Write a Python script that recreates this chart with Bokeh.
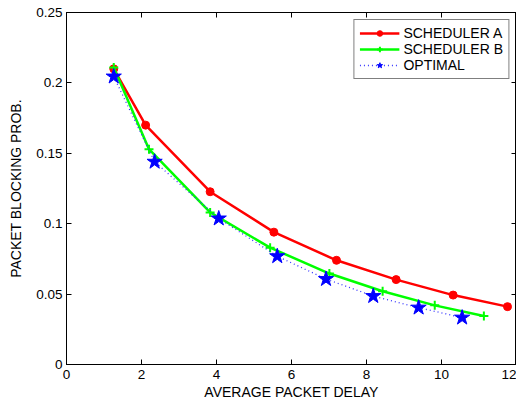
from bokeh.plotting import figure
from bokeh.models import Range1d, FixedTicker, LinearAxis, Legend, LegendItem, CustomJSTickFormatter
from bokeh.embed import file_html
from bokeh.resources import INLINE

# Data
sched_a_x = [1.26, 2.11, 3.83, 5.53, 7.20, 8.79, 10.31, 11.76]
sched_a_y = [0.210, 0.170, 0.1227, 0.094, 0.074, 0.0603, 0.0493, 0.0411]

sched_b_x = [1.26, 2.20, 3.83, 5.43, 7.01, 8.43, 9.82, 11.13]
sched_b_y = [0.211, 0.1529, 0.108, 0.083, 0.0646, 0.052, 0.042, 0.0344]

optimal_x = [1.26, 2.35, 4.06, 5.62, 6.92, 8.18, 9.39, 10.55]
optimal_y = [0.2045, 0.144, 0.1037, 0.0769, 0.0607, 0.0486, 0.0404, 0.0333]

x_ticks = [0, 2, 4, 6, 8, 10, 12]
y_ticks = [0, 0.05, 0.1, 0.15, 0.2, 0.25]
y_tick_labels = ["0", "0.05", "0.1", "0.15", "0.2", "0.25"]

series_names = ["SCHEDULER A", "SCHEDULER B", "OPTIMAL"]
x_title = "AVERAGE PACKET DELAY"
y_title = "PACKET BLOCKING PROB."

FONT = "Liberation Sans"

p = figure(width=516, height=402, output_backend="svg", toolbar_location=None,
           x_range=Range1d(0, 12), y_range=Range1d(0, 0.25),
           min_border_left=66, min_border_right=0, min_border_top=12, min_border_bottom=38)
p.background_fill_color = "white"
p.border_fill_color = "white"
p.outline_line_color = "black"
p.outline_line_width = 1
p.grid.visible = False

def style_axis(ax, labels=True):
    ax.axis_line_color = "black"
    ax.major_tick_line_color = "black"
    ax.major_tick_in = 5
    ax.major_tick_out = 0
    ax.minor_tick_line_color = None
    ax.major_label_text_font = FONT
    ax.major_label_text_font_size = "13.5px"
    ax.major_label_text_color = "black"
    ax.axis_label_text_font = FONT
    ax.axis_label_text_font_size = "14px"
    ax.axis_label_text_font_style = "normal"
    ax.axis_label_text_color = "black"
    if not labels:
        ax.formatter = CustomJSTickFormatter(code="return '';")
        ax.major_label_standoff = 0

p.xaxis.ticker = FixedTicker(ticks=x_ticks)
p.yaxis.ticker = FixedTicker(ticks=y_ticks)
p.yaxis.major_label_overrides = {t: l for t, l in zip(y_ticks, y_tick_labels)}
p.xaxis.axis_label = x_title
p.yaxis.axis_label = y_title
style_axis(p.xaxis[0])
style_axis(p.yaxis[0])
p.xaxis.major_label_standoff = 5
p.xaxis.axis_label_standoff = 2
p.yaxis.major_label_standoff = 4
p.yaxis.axis_label_standoff = 9

top_ax = LinearAxis(ticker=FixedTicker(ticks=x_ticks))
style_axis(top_ax, labels=False)
p.add_layout(top_ax, "above")
right_ax = LinearAxis(ticker=FixedTicker(ticks=y_ticks))
style_axis(right_ax, labels=False)
p.add_layout(right_ax, "right")

la = p.line(sched_a_x, sched_a_y, line_color="#ff0000", line_width=2.5)
sa = p.scatter(sched_a_x, sched_a_y, marker="circle", size=8, fill_color="#ff0000", line_color="#ff0000")

lb = p.line(sched_b_x, sched_b_y, line_color="#00ff00", line_width=2.5)
sb = p.scatter(sched_b_x, sched_b_y, marker="cross", size=9, line_color="#00ff00", line_width=2)

lo = p.line(optimal_x, optimal_y, line_color="#3333ff", line_width=1.3, line_dash="1 3")
so = p.scatter(optimal_x, optimal_y, marker="star", size=16, fill_color="#0000ff", line_color="#0000ff")

legend = Legend(items=[
    LegendItem(label=series_names[0], renderers=[la, sa]),
    LegendItem(label=series_names[1], renderers=[lb, sb]),
    LegendItem(label=series_names[2], renderers=[lo, so]),
], location="top_right")
legend.margin = 7
legend.padding = 5
legend.spacing = 0
legend.glyph_width = 40
legend.glyph_height = 14
legend.label_height = 14
legend.label_standoff = 4
legend.label_text_font = FONT
legend.label_text_font_size = "14px"
legend.label_text_color = "black"
legend.border_line_color = "black"
legend.border_line_width = 1
legend.background_fill_color = "white"
legend.background_fill_alpha = 1
p.add_layout(legend, "center")

open("out.html", "w").write(file_html(p, INLINE))
